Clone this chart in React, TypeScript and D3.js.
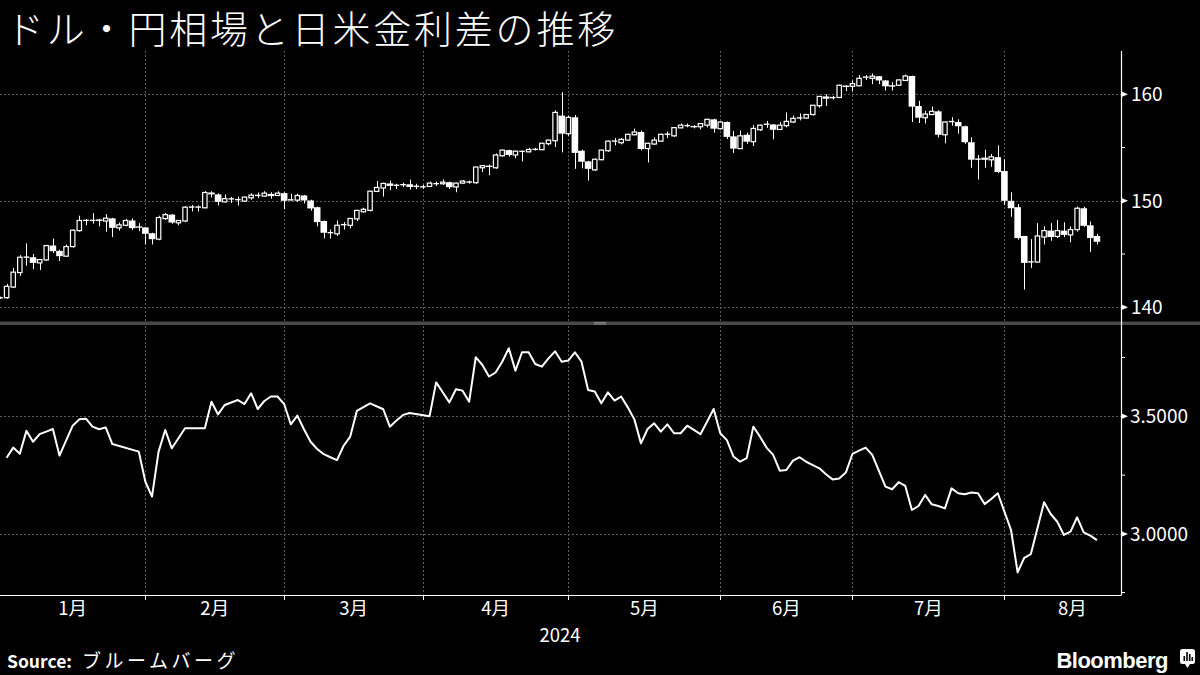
import React from "react";
import * as d3 from "d3";

// ---- Data (USD/JPY daily candles, trading-day index 0 = 2024-01-01) ----
const OPEN = [140.9,140.9,141.9,143.26,144.7,144.7,144.17,144.45,145.8,145.3,144.8,145.7,147.2,148.1,148.15,148.25,148.1,148.35,147.46,147.7,148.15,147.6,147.5,146.95,146.4,148.33,148.7,147.93,148.1,149.4,149.4,149.34,150.78,150.6,149.9,150.17,150.1,149.97,150.28,150.5,150.44,150.65,150.5,150.72,150.08,150.06,150.5,150.03,149.4,148.1,147.0,146.9,147.75,147.7,148.3,148.97,149.1,150.88,151.2,151.63,151.45,151.5,151.55,151.35,151.3,151.35,151.6,151.6,151.75,151.3,151.66,151.75,151.7,153.1,153.3,153.1,154.23,154.76,154.3,154.63,154.6,154.82,154.8,155.36,155.64,158.0,156.3,157.84,154.7,153.7,152.9,153.86,154.7,155.6,155.45,155.7,156.2,156.46,154.9,155.33,155.6,156.24,156.1,156.85,157.05,157.03,156.95,157.1,157.65,156.77,157.4,156.05,154.9,156.2,155.55,156.67,157.18,157.17,156.7,157.05,157.4,157.77,157.77,158.1,158.93,159.8,159.68,159.7,160.82,160.75,160.8,161.6,161.5,161.7,161.3,160.85,160.85,161.3,161.72,158.9,157.8,158.1,158.4,156.2,157.43,157.4,157.0,155.5,153.9,154.05,153.85,154.1,152.8,150.0,149.4,146.7,144.25,144.25,146.6,147.2,146.65,147.2,146.8,147.3,149.3,147.7,146.7];
const HIGH = [141.0,142.2,143.7,144.9,146.0,145.0,144.5,145.85,146.46,145.4,145.9,147.3,148.6,148.3,148.84,148.3,148.75,148.4,147.96,148.3,148.35,147.9,147.55,147.0,148.6,148.86,148.75,148.2,149.5,149.6,149.55,150.9,150.9,150.7,150.6,150.36,150.4,150.4,150.7,150.78,150.9,150.8,150.9,150.8,150.66,150.66,150.55,150.1,149.45,148.15,147.3,148.15,148.0,148.36,149.15,149.35,150.95,151.85,151.7,151.9,151.6,151.7,152.0,151.6,151.5,151.8,151.8,152.0,151.8,151.7,151.95,151.9,153.2,153.35,153.4,154.45,154.8,154.8,154.7,154.7,154.95,154.98,155.45,155.75,158.5,160.2,158.0,158.05,154.8,153.75,154.0,154.8,155.65,155.9,155.9,156.3,156.78,156.6,155.45,155.95,156.3,156.5,156.9,157.25,157.25,157.1,157.3,157.7,157.7,157.45,157.45,156.55,156.6,156.4,157.1,157.15,157.5,157.2,157.4,158.3,158.0,158.2,158.15,159.0,159.85,160.0,159.85,160.9,160.85,161.3,161.8,161.8,161.95,161.72,161.35,161.15,161.4,161.85,161.75,159.4,158.45,158.85,158.5,157.45,157.85,157.65,157.05,155.96,154.3,154.8,154.4,155.2,153.9,150.8,149.7,146.7,146.4,147.9,147.6,147.9,148.2,147.98,147.6,149.45,149.45,148.05,146.9];
const LOW = [140.8,140.8,141.8,142.95,143.9,143.6,143.5,144.35,145.1,144.35,144.75,145.6,147.1,147.7,147.85,147.6,147.1,146.6,147.2,147.6,147.25,147.15,145.9,145.9,146.3,148.2,147.84,147.7,148.0,149.0,149.0,149.3,150.3,149.56,149.85,149.8,149.56,149.9,150.1,150.25,150.4,150.2,150.45,149.2,150.0,149.9,149.75,149.07,147.6,146.46,146.46,146.7,147.3,147.4,148.1,148.9,149.0,150.85,150.4,151.0,151.1,151.3,151.05,151.1,151.1,151.3,151.4,151.5,151.1,150.8,151.6,151.6,151.6,152.7,152.4,153.0,154.15,154.15,154.0,153.7,154.55,154.72,154.75,155.2,155.05,154.55,156.1,153.0,153.05,151.9,152.8,153.8,154.6,155.2,155.3,155.65,156.15,154.73,153.6,155.25,155.55,155.9,156.0,156.8,156.9,156.8,156.7,156.9,156.4,156.7,155.8,154.5,154.85,155.35,155.15,156.55,156.85,155.77,156.65,156.9,157.3,157.55,157.7,158.0,158.75,158.9,159.5,159.65,160.3,160.3,160.75,161.35,160.95,160.95,160.35,160.35,160.8,161.25,157.4,157.3,157.26,158.05,155.95,155.4,157.05,156.3,155.35,153.1,152.0,153.1,153.2,152.6,149.6,148.5,146.35,141.66,143.7,144.2,145.9,146.25,146.5,146.6,146.1,147.1,147.55,145.2,145.9];
const CLOSE = [140.9,141.97,143.3,144.7,144.72,144.17,144.48,145.8,145.27,144.8,145.7,147.24,148.15,148.17,148.17,148.1,148.37,147.46,147.74,148.15,147.43,147.52,146.9,146.4,148.43,148.7,147.96,148.15,149.4,149.42,149.42,150.78,150.6,149.9,150.2,150.19,150.12,150.35,150.53,150.52,150.72,150.44,150.72,150.0,150.1,150.5,150.03,149.28,148.0,147.0,147.02,147.7,147.77,148.34,149.1,149.2,150.9,151.25,151.63,151.4,151.47,151.52,151.3,151.37,151.32,151.66,151.62,151.75,151.28,151.66,151.85,151.77,153.17,153.3,153.2,154.3,154.76,154.3,154.66,154.65,154.82,154.84,155.4,155.7,158.3,156.3,157.84,154.5,153.67,153.0,153.9,154.76,155.6,155.62,155.77,156.24,156.46,154.86,155.4,155.7,156.24,156.26,156.87,157.1,157.07,157.0,157.25,157.65,156.77,157.4,156.0,154.9,156.1,155.55,156.8,157.1,157.2,156.67,157.1,157.46,157.74,157.79,158.1,158.97,159.8,159.58,159.7,160.85,160.8,161.0,161.5,161.62,161.7,161.3,160.75,160.83,161.35,161.72,158.84,157.8,158.15,158.4,156.2,157.4,157.45,157.0,155.5,153.86,153.92,153.85,154.13,152.7,150.0,149.3,146.5,144.17,144.27,146.7,147.2,146.6,147.2,146.8,147.3,149.3,147.65,146.5,146.15];

// ---- Data (US-Japan rate spread, %, by trading-day index) ----
const SPREAD_IDX = [1,2,3,4,5,6,7,8,9,11,12,13,14,15,16,17,21,22,23,24,25,26,28,31,32,33,34,36,37,38,39,40,41,42,43,44,45,46,47,48,49,50,51,52,53,54,56,58,59,60,61,62,65,66,67,68,69,70,71,72,73,74,75,76,77,78,79,80,81,82,83,84,85,86,87,88,89,90,91,92,93,94,95,96,97,98,99,100,101,102,103,104,105,106,107,108,109,110,111,112,113,114,115,116,117,118,119,120,121,122,123,124,125,126,127,128,129,130,131,132,134,135,136,137,138,139,140,141,142,143,144,145,146,147,148,149,150,151,152,153,154,155,156,157,158,159,160,161,162,163,164,165,166];
const SPREAD = [3.324,3.367,3.341,3.438,3.392,3.424,3.435,3.446,3.333,3.46,3.487,3.49,3.456,3.445,3.453,3.382,3.35,3.222,3.159,3.35,3.442,3.364,3.449,3.449,3.562,3.508,3.548,3.569,3.552,3.598,3.531,3.565,3.584,3.584,3.552,3.466,3.503,3.445,3.392,3.361,3.339,3.326,3.314,3.375,3.414,3.523,3.555,3.53,3.456,3.482,3.506,3.514,3.5,3.644,3.602,3.559,3.615,3.609,3.562,3.751,3.718,3.669,3.686,3.732,3.789,3.694,3.772,3.772,3.722,3.711,3.746,3.776,3.732,3.737,3.772,3.732,3.612,3.605,3.555,3.602,3.567,3.584,3.538,3.487,3.385,3.446,3.47,3.435,3.466,3.428,3.428,3.46,3.442,3.424,3.477,3.531,3.428,3.399,3.329,3.307,3.322,3.456,3.414,3.367,3.336,3.269,3.272,3.312,3.326,3.307,3.293,3.279,3.254,3.232,3.236,3.261,3.34,3.354,3.367,3.336,3.201,3.19,3.22,3.204,3.102,3.119,3.166,3.126,3.119,3.109,3.194,3.173,3.169,3.176,3.173,3.127,3.149,3.173,3.095,3.017,2.837,2.899,2.915,3.024,3.135,3.085,3.052,2.996,3.01,3.071,3.007,2.993,2.974];

// ---- Axis labels ----
const MONTH_END_IDX = [22, 43, 64, 86, 109, 129, 152];
const MONTH_LABELS = ["1月", "2月", "3月", "4月", "5月", "6月", "7月", "8月"];
const MONTH_LABEL_IDX = [11, 32.5, 53.5, 75, 97.5, 119, 140.5, 162.3];
const YEAR_LABEL = "2024";
const TOP_TICKS = [160, 150, 140];
const TOP_MINOR = [155, 145];
const BOT_TICKS = [3.5, 3.0];
const BOT_MINOR = [3.75, 3.25];
const TITLE = "ドル・円相場と日米金利差の推移";

const W = 1200;
const H = 675;
const AXIS_X = 1121;
const TOP_Y0 = 51;
const TOP_Y1 = 321;
const BOT_Y0 = 326;
const BOT_Y1 = 595;
const FONT = "'Noto Sans CJK JP', 'Noto Sans', sans-serif";
const GRID = "#5c5c5c";

export default function App() {
  const x = d3.scaleLinear().domain([0, 166]).range([0, 166 * 6.608]);
  const yTop = d3.scaleLinear().domain([140, 160]).range([307.3, 94.3]);
  const yBot = d3.scaleLinear().domain([3.0, 3.5]).range([534, 416.3]);

  const line = d3
    .line<number>()
    .x((_, i) => x(SPREAD_IDX[i]))
    .y((d) => yBot(d));

  const candles = OPEN.map((o, i) => {
    const c = CLOSE[i];
    const cx = x(i);
    const wx = Math.round(cx) + 0.5;
    const yH = yTop(HIGH[i]);
    const yL = yTop(LOW[i]);
    const yO = yTop(o);
    const yC = yTop(c);
    const up = c >= o;
    const top = Math.min(yO, yC);
    const h = Math.abs(yO - yC);
    return (
      <g key={i}>
        <line x1={wx} x2={wx} y1={yH} y2={yL} stroke="#fff" strokeWidth={1} />
        {up ? (
          h < 1.5 ? (
            <rect x={cx - 2.8} y={top - 0.6} width={5.6} height={Math.max(1.4, h + 0.4)} fill="#fff" />
          ) : (
            <rect x={cx - 2.2} y={top} width={4.4} height={h} fill="#000" stroke="#fff" strokeWidth={1.2} />
          )
        ) : (
          <rect x={cx - 3.3} y={top} width={6.6} height={Math.max(1.4, h)} fill="#fff" />
        )}
      </g>
    );
  });

  return (
    <div style={{ position: "absolute", left: 0, top: 0, width: W, height: H }}>
      <svg width={W} height={H} style={{ display: "block", background: "#000" }} fontFamily={FONT}>
        <rect x={0} y={0} width={W} height={H} fill="#000" />
        <text x={6} y={43} fill="#fff" fontSize={38} fontWeight={300} letterSpacing={2.8}>
          {TITLE}
        </text>

        {/* gridlines */}
        {MONTH_END_IDX.map((m) => {
          const gx = Math.round(x(m)) + 0.5;
          return (
            <g key={"vg" + m}>
              <line x1={gx} x2={gx} y1={TOP_Y0} y2={TOP_Y1} stroke={GRID} strokeDasharray="2,2" />
              <line x1={gx} x2={gx} y1={BOT_Y0} y2={BOT_Y1} stroke={GRID} strokeDasharray="2,2" />
              <line x1={gx} x2={gx} y1={BOT_Y1} y2={BOT_Y1 + 5} stroke="#fff" />
            </g>
          );
        })}
        {TOP_TICKS.map((t) => (
          <line key={"tg" + t} x1={0} x2={AXIS_X} y1={Math.round(yTop(t)) + 0.5} y2={Math.round(yTop(t)) + 0.5} stroke={GRID} strokeDasharray="2,2" />
        ))}
        {BOT_TICKS.map((t) => (
          <line key={"bg" + t} x1={0} x2={AXIS_X} y1={Math.round(yBot(t)) + 0.5} y2={Math.round(yBot(t)) + 0.5} stroke={GRID} strokeDasharray="2,2" />
        ))}

        {/* candles */}
        <g>{candles}</g>

        {/* spread line */}
        <path d={line(SPREAD) || ""} fill="none" stroke="#fff" strokeWidth={2} strokeLinejoin="round" />

        {/* separator */}
        <rect x={0} y={321.5} width={W} height={3.5} fill="#4a4a4a" />
        <line x1={594} x2={606} y1={322.5} y2={322.5} stroke="#9a9a9a" strokeWidth={0.8} />
        <line x1={594} x2={606} y1={324.2} y2={324.2} stroke="#9a9a9a" strokeWidth={0.8} />

        {/* axes */}
        <line x1={AXIS_X + 0.5} x2={AXIS_X + 0.5} y1={TOP_Y0} y2={BOT_Y1} stroke="#fff" strokeWidth={1.2} />
        <line x1={0} x2={AXIS_X + 0.5} y1={BOT_Y1 + 0.5} y2={BOT_Y1 + 0.5} stroke="#fff" strokeWidth={1.2} />
        <line x1={AXIS_X} x2={AXIS_X + 4} y1={BOT_Y1 - 2.5} y2={BOT_Y1 - 2.5} stroke="#fff" />

        {TOP_TICKS.map((t) => {
          const ty = yTop(t);
          return (
            <g key={"tt" + t}>
              <path d={`M${AXIS_X},${ty - 3}L${AXIS_X + 7},${ty}L${AXIS_X},${ty + 3}Z`} fill="#fff" />
              <text x={1131} y={ty} dy="0.36em" fill="#fff" fontSize={19}>
                {t}
              </text>
            </g>
          );
        })}
        {TOP_MINOR.map((t) => (
          <line key={"tm" + t} x1={AXIS_X} x2={AXIS_X + 4} y1={yTop(t)} y2={yTop(t)} stroke="#fff" />
        ))}
        {BOT_TICKS.map((t) => {
          const ty = yBot(t);
          return (
            <g key={"bt" + t}>
              <path d={`M${AXIS_X},${ty - 3}L${AXIS_X + 7},${ty}L${AXIS_X},${ty + 3}Z`} fill="#fff" />
              <text x={1130} y={ty} dy="0.36em" fill="#fff" fontSize={19}>
                {t.toFixed(4)}
              </text>
            </g>
          );
        })}
        {BOT_MINOR.map((t) => (
          <line key={"bm" + t} x1={AXIS_X} x2={AXIS_X + 4} y1={yBot(t)} y2={yBot(t)} stroke="#fff" />
        ))}

        {MONTH_LABELS.map((m, i) => (
          <text key={m} x={x(MONTH_LABEL_IDX[i])} y={615} fill="#fff" fontSize={18.5} textAnchor="middle">
            {m}
          </text>
        ))}
        <text x={560} y={642} fill="#fff" fontSize={18.5} textAnchor="middle">
          {YEAR_LABEL}
        </text>

        {/* footer */}
        <text x={7} y={668} fill="#fff" fontSize={17.5}>
          <tspan fontWeight={700}>Source:</tspan>
          <tspan dx={10} fontSize={19} letterSpacing={3.5}>ブルームバーグ</tspan>
        </text>
        <text x={1168} y={668} fill="#fff" fontSize={22} fontWeight={700} textAnchor="end" fontFamily="'Liberation Sans', 'Noto Sans', sans-serif" letterSpacing={-0.5}>
          Bloomberg
        </text>
        <g>
          <rect x={1180} y={649} width={15} height={15} rx={2.5} fill="#fff" />
          <path d="M1185,664 L1187.5,668 L1190,664 Z" fill="#fff" />
          <rect x={1183.5} y={656} width={1.6} height={5} fill="#000" />
          <rect x={1186.2} y={652} width={1.6} height={9} fill="#000" />
          <rect x={1188.9} y={654} width={1.6} height={7} fill="#000" />
          <rect x={1191.5} y={657} width={1.6} height={4} fill="#000" />
        </g>
      </svg>
    </div>
  );
}
